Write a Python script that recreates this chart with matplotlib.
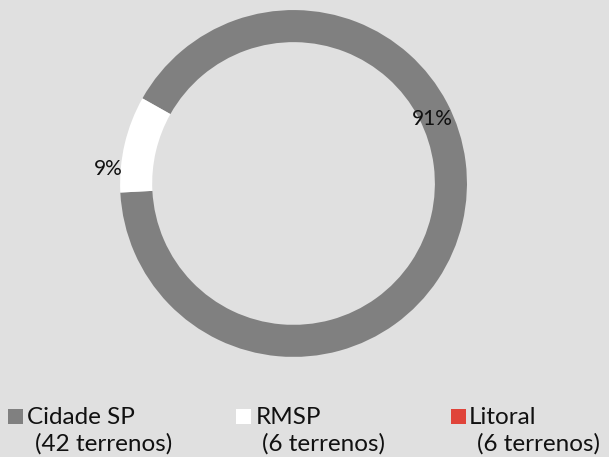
import matplotlib
matplotlib.use('Agg')
import matplotlib.pyplot as plt
from matplotlib.patches import Rectangle

plt.rcParams['font.family'] = ['Lato', 'DejaVu Sans']

# data
categories = ['Cidade SP', 'RMSP', 'Litoral']
counts = ['42 terrenos', '6 terrenos', '6 terrenos']
shares = [91, 9, 0]
colors = ['#808080', '#ffffff', '#e0443a']
bg = '#e0e0e0'

W, H = 609, 457
fig = plt.figure(figsize=(W / 100, H / 100), dpi=100)
fig.patch.set_facecolor(bg)
ax = fig.add_axes([0.197, 0.219, 0.570, 0.759])
ax.set_facecolor(bg)

ax.pie(shares, colors=colors, startangle=183, radius=1,
       wedgeprops=dict(width=0.185, linewidth=0))
ax.set_xlim(-1, 1)
ax.set_ylim(-1, 1)
ax.set_aspect('equal')
ax.axis('off')

# percentage labels (positions as placed in the original chart)
ax.text(0.80, 0.37, f'{shares[0]}%', fontsize=15, color='#111111',
        ha='center', va='center')
ax.text(-1.066, 0.086, f'{shares[1]}%', fontsize=15, color='#111111',
        ha='center', va='center')

# legend drawn by hand: square + name on first line, count below
sq_x = [8, 236, 451]
name_x = [27, 256, 469]
count_x = [35, 262, 477]
for i in range(len(categories)):
    fig.patches.append(Rectangle((sq_x[i] / W, (H - 424) / H), 15 / W, 15 / H,
                                 transform=fig.transFigure, facecolor=colors[i],
                                 edgecolor='none'))
    fig.text(name_x[i] / W, (H - 424) / H, categories[i], fontsize=17.5,
             color='#111111', ha='left', va='baseline')
    fig.text(count_x[i] / W, (H - 451) / H, f'({counts[i]})', fontsize=17.5,
             color='#111111', ha='left', va='baseline')

fig.savefig('out.png', dpi=100, facecolor=bg)
